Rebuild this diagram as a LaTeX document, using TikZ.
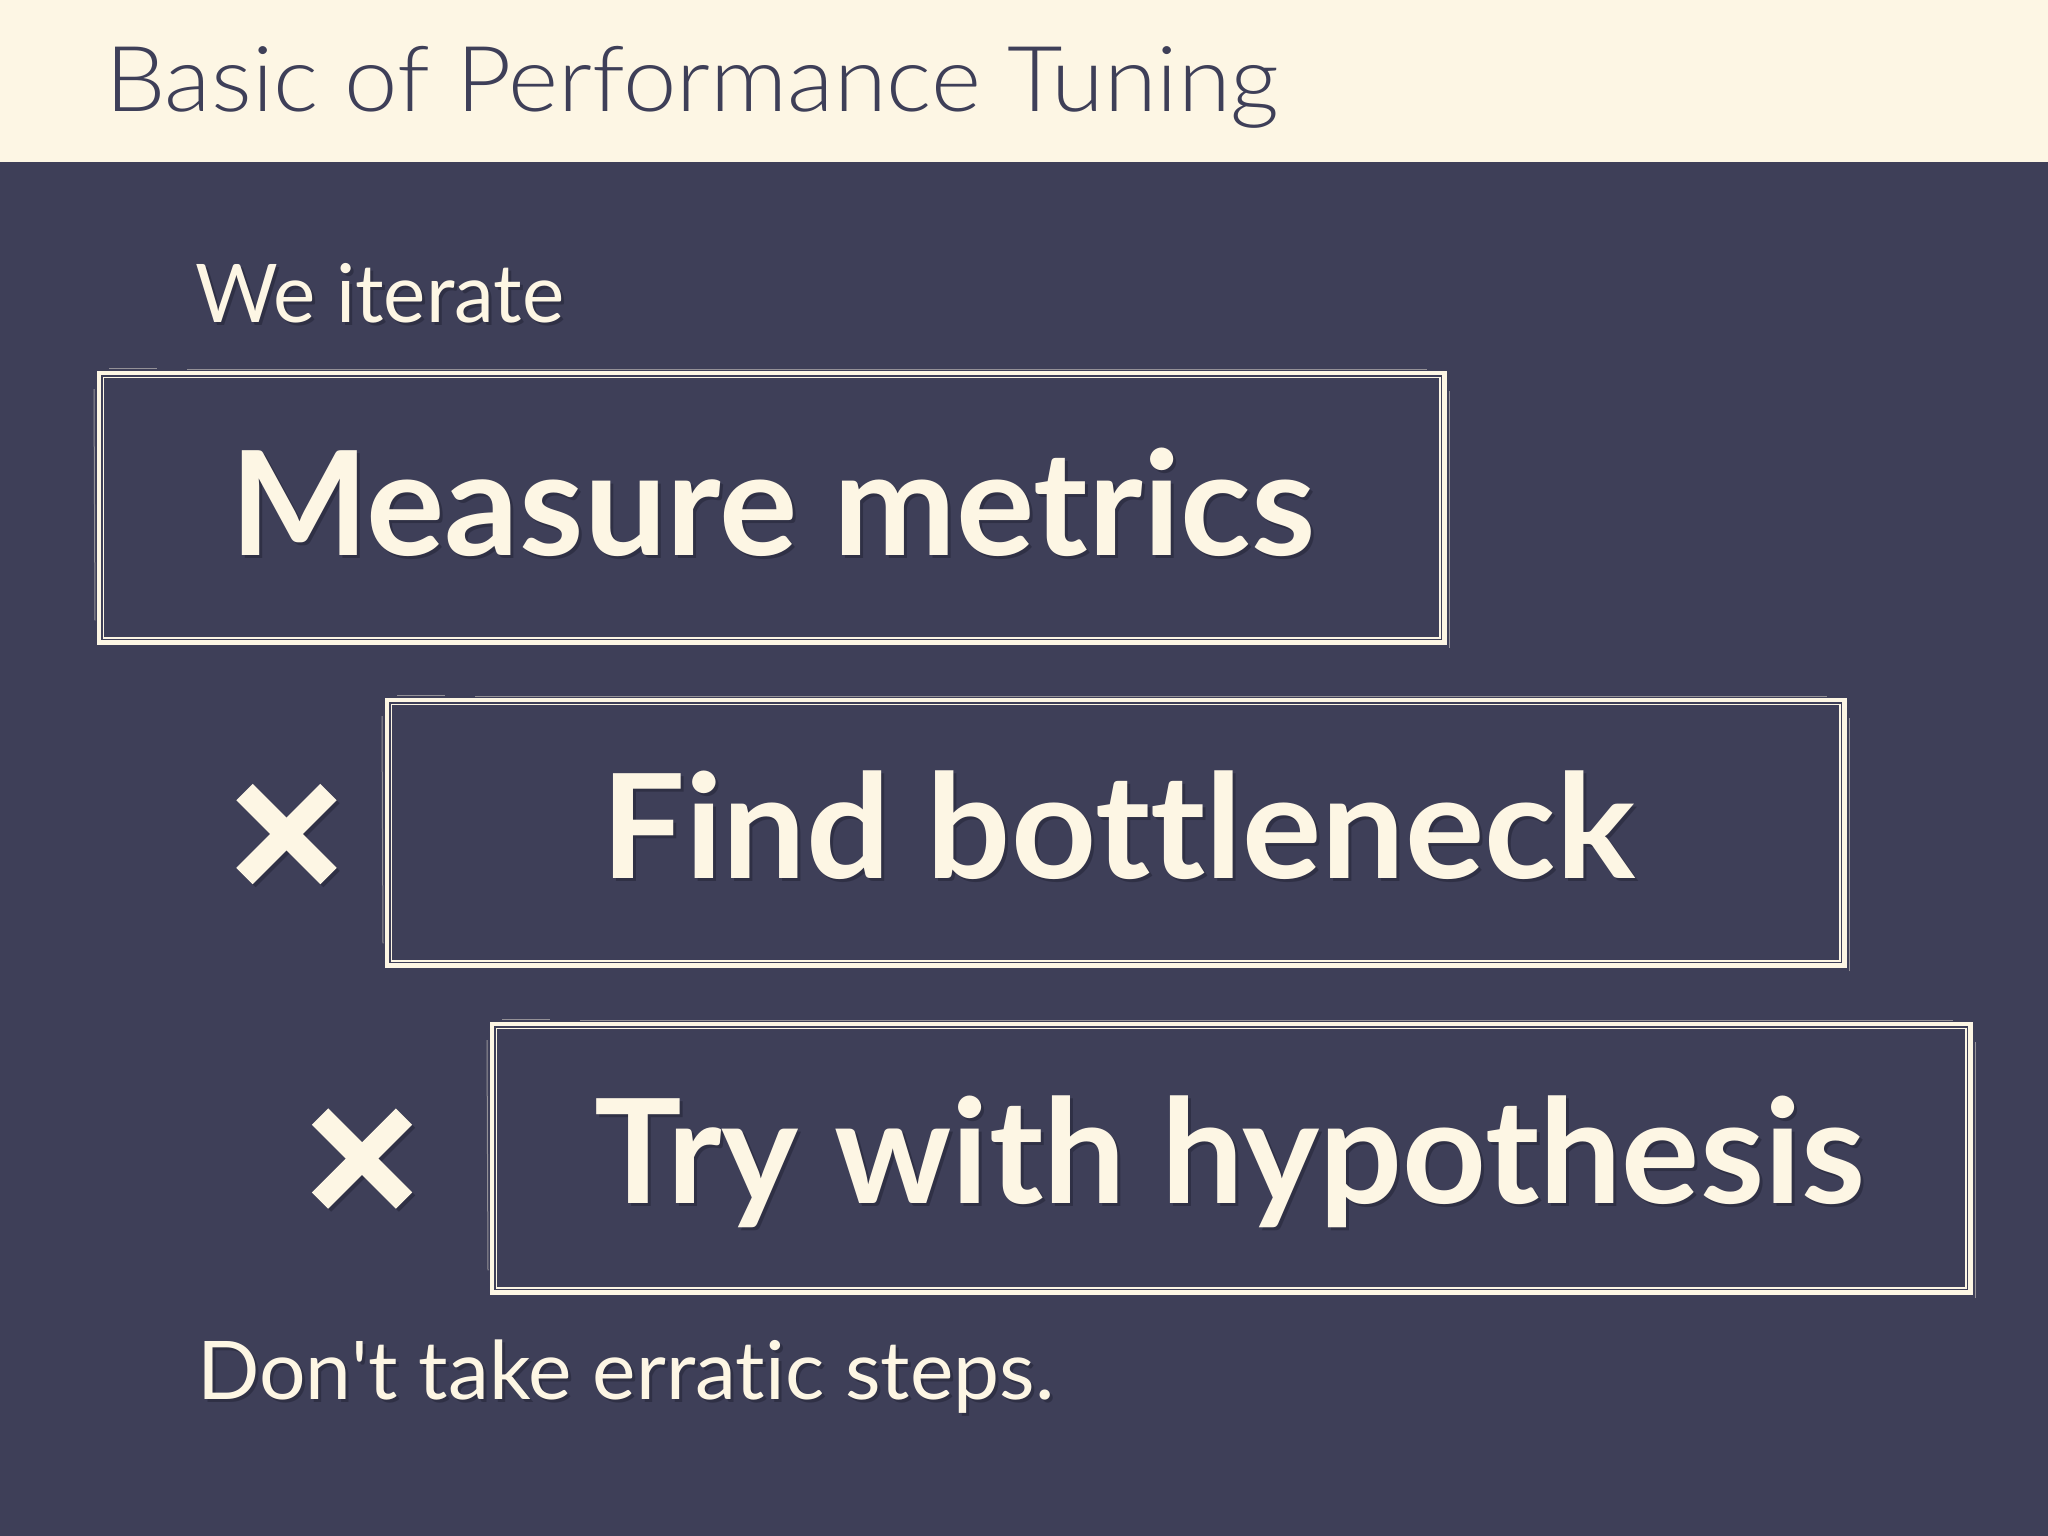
\documentclass[tikz,border=0pt]{standalone}
\usepackage{fontspec}
\usepackage{graphicx}
\setmainfont{Lato}[Ligatures={NoCommon,NoRequired,NoContextual}]
\newfontfamily\plainfont{Lato}[Ligatures={NoCommon,NoContextual}]
\newfontfamily\lightfont{Lato Light}[Ligatures={NoCommon,NoContextual}]
\definecolor{navy}{HTML}{3E3F58}
\definecolor{cream}{HTML}{FDF6E4}
\definecolor{shadowc}{HTML}{1E1F30}
\newcommand\fitw[2]{\resizebox{#1pt}{\height}{#2}}
\newcommand\sketchborder[1]{%
  \draw[cream, line width=5pt] ([shift={(-2.5,0)}]#1.north east) -- ([shift={(-2.5,-2.5)}]#1.south east) -- ([shift={(0,-2.5)}]#1.south west);
  \draw[cream, line width=3.5pt] ([shift={(1.75,-2)}]#1.south west) -- ([shift={(1.75,1.75)}]#1.north west) -- ([shift={(-4,1.75)}]#1.north east);
  \draw[cream, line width=1.6pt] ([shift={(6.3,6.3)}]#1.north west) rectangle ([shift={(-7.2,-7.2)}]#1.south east);
  \draw[cream, line width=1pt, opacity=.45] ([shift={(-3,18)}]#1.north west) -- ([shift={(-2,-25)}]#1.south west);
  \draw[cream, line width=1pt, opacity=.45] ([shift={(12,-3)}]#1.north west) -- ([shift={(60,-3)}]#1.north west);
  \draw[cream, line width=1pt, opacity=.45] ([shift={(90,-2)}]#1.north west) -- ([shift={(-20,-2)}]#1.north east);
  \draw[cream, line width=1pt, opacity=.45] ([shift={(2,3)}]#1.south east) -- ([shift={(2,20)}]#1.north east);
}
\tikzset{
  txt/.style={anchor=base west, inner sep=0pt, text=cream},
  shd/.style={anchor=base west, inner sep=0pt, text=shadowc, opacity=0.45},
  big/.style={font=\bfseries\fontsize{145}{160}\selectfont},
  body/.style={font=\fontsize{81}{90}\selectfont},
  boxst/.style={draw=none, inner sep=0pt, anchor=north west},
  crossst/.style={cream, line width=23pt},
  crossshd/.style={shadowc, opacity=0.45, line width=23pt}
}
\begin{document}
\begin{tikzpicture}[x=1pt,y=-1pt]
\useasboundingbox (0,0) rectangle (2048,1536);
\fill[navy] (0,0) rectangle (2048,1536);
\fill[cream] (0,0) rectangle (2048,162);

% title
\node[anchor=base west, inner sep=0pt, text=navy, font=\lightfont\fontsize{91}{100}\selectfont] (title) at (105,112) {\fitw{1174}{Basic of Performance Tuning}};

% We iterate
\node[shd, body] (we-s) at (198,325) {\fitw{369}{We iterate}};
\node[txt, body] (we) at (195,322) {\fitw{369}{We iterate}};

% boxes
\node[boxst, minimum width=1350pt, minimum height=274pt] (b1) at (97,371) {};
\node[boxst, minimum width=1462pt, minimum height=270pt] (b2) at (385,698) {};
\node[boxst, minimum width=1483pt, minimum height=273pt] (b3) at (490,1022) {};
\sketchborder{b1}
\sketchborder{b2}
\sketchborder{b3}

% box texts
\node[shd, big] (t1-s) at (233,558) {\fitw{1085}{Measure metrics}};
\node[txt, big] (t1) at (230,555) {\fitw{1085}{Measure metrics}};
\node[shd, big] (t2-s) at (604,881) {\fitw{1034}{Find bottleneck}};
\node[txt, big] (t2) at (601,878) {\fitw{1034}{Find bottleneck}};
\node[shd, big] (t3-s) at (597,1206) {\fitw{1271}{Try with hypothesis}};
\node[txt, big] (t3) at (594,1203) {\fitw{1271}{Try with hypothesis}};

% crosses
\coordinate (x1) at (286.5,834);
\coordinate (x2) at (362,1158.5);
\foreach \c in {x1,x2}{
  \draw[crossshd] ([shift={(-39,-39)}]\c) -- ([shift={(45,45)}]\c);
  \draw[crossshd] ([shift={(45,-39)}]\c) -- ([shift={(-39,45)}]\c);
  \draw[crossst] ([shift={(-42,-42)}]\c) -- ([shift={(42,42)}]\c);
  \draw[crossst] ([shift={(42,-42)}]\c) -- ([shift={(-42,42)}]\c);
}

% bottom text
\node[shd, body] (dont-s) at (200,1402) {\fitw{857}{Don{\plainfont '}t take erratic steps.}};
\node[txt, body] (dont) at (197,1399) {\fitw{857}{Don{\plainfont '}t take erratic steps.}};
\end{tikzpicture}
\end{document}
